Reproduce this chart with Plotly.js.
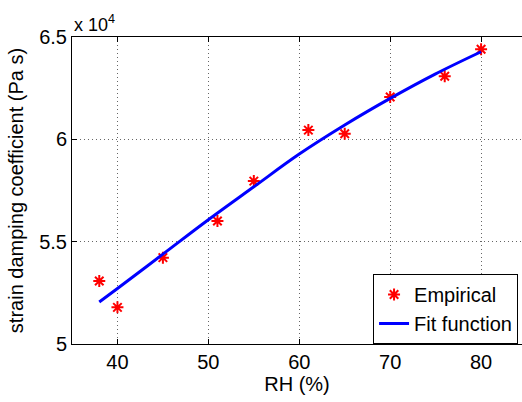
<!DOCTYPE html>
<html><head><meta charset="utf-8">
<script src="https://cdn.plot.ly/plotly-3.0.1.min.js"></script>
<style>body{margin:0;padding:0;background:#fff}#chart{width:522px;height:402px}</style>
</head><body><div id="chart"></div>
<script>
const rhEmp = [38, 40, 45, 51, 55, 61, 65, 70, 76, 80];
const dampEmp = [53080, 51790, 54220, 56010, 57960, 60450, 60270, 62070, 63080, 64400];
const rhFit = [38, 40, 45, 50, 55, 60, 65, 70, 75, 80];
const dampFit = [52050, 52710, 54390, 56070, 57680, 59280, 60700, 62000, 63200, 64280];
const xTicks = [40, 50, 60, 70, 80];
const yTickVals = [50000, 55000, 60000, 65000];
const yTickText = ['5', '5.5', '6', '6.5'];

const font = {family: 'Liberation Sans, Arial, sans-serif', size: 20, color: '#000'};

const traces = [
  {x: rhEmp, y: dampEmp, mode: 'markers', name: 'Empirical', type: 'scatter',
   marker: {symbol: 'asterisk-open', size: 10, color: '#ff0000', line: {color: '#ff0000', width: 2}}},
  {x: rhFit, y: dampFit, mode: 'lines', name: 'Fit function', type: 'scatter', line: {color: '#0000ff', width: 3, shape: 'spline'}},
  {x: rhFit, y: dampFit, xaxis: 'x2', mode: 'lines', showlegend: false, hoverinfo: 'skip', line: {color: 'rgba(0,0,0,0)', width: 0}}
];

const layout = {
  width: 522, height: 402,
  margin: {l: 72, r: 0, t: 37, b: 58},
  paper_bgcolor: '#fff', plot_bgcolor: '#fff',
  font: font,
  showlegend: true,
  xaxis: {range: [35, 84.5], tickvals: xTicks, ticks: 'inside', ticklen: 5, tickcolor: '#000',
    showline: true, linecolor: '#000', linewidth: 1, zeroline: false,
    showgrid: true, gridcolor: '#666', griddash: '1px,3px', gridwidth: 1,
    tickfont: font, title: {text: 'RH (%)', font: font, standoff: 4}},
  xaxis2: {range: [35, 84.5], overlaying: 'x', side: 'top', tickvals: xTicks, ticks: 'inside', ticklen: 5,
    tickcolor: '#000', showticklabels: false, showline: true, linecolor: '#000', linewidth: 1,
    showgrid: false, zeroline: false},
  yaxis: {range: [50000, 65000], tickvals: yTickVals, ticktext: yTickText, ticks: 'inside', ticklen: 5,
    tickcolor: '#000', showline: true, linecolor: '#000', linewidth: 1, zeroline: false,
    showgrid: true, gridcolor: '#666', griddash: '1px,3px', gridwidth: 1,
    tickfont: font, title: {text: 'strain damping coefficient (Pa s)', font: font, standoff: 10}},
  legend: {x: 0.669, y: 0, xanchor: 'left', yanchor: 'bottom', bgcolor: '#fff',
    bordercolor: '#000', borderwidth: 1, font: font, tracegroupgap: 0},
  annotations: [{xref: 'paper', yref: 'paper', x: 0, y: 1, xanchor: 'left', yanchor: 'bottom', yshift: 0,
    text: 'x 10<sup>4</sup>', showarrow: false, font: {family: font.family, size: 18, color: '#000'}}]
};

Plotly.newPlot('chart', traces, layout, {displayModeBar: false, staticPlot: true});
</script></body></html>
